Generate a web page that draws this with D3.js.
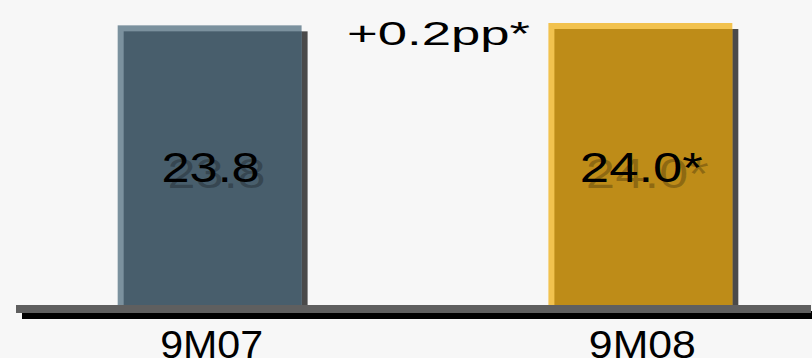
<!DOCTYPE html>
<html>
<head>
<meta charset="utf-8">
<script src="https://cdn.jsdelivr.net/npm/d3@7"></script>
<style>
  html, body { margin: 0; padding: 0; background: #f7f7f7; }
  svg { display: block; }
  text { font-family: "Liberation Sans", Arial, sans-serif; }
</style>
</head>
<body>
<svg id="chart" width="812" height="358"></svg>
<script>
// Period averages and their labels
const categories = ["9M07", "9M08"];
const values = [23.8, 24.0];
const valueLabels = ["23.8", "24.0*"];
const deltaLabel = "+0.2pp*";
const faceColors = ["#485e6c", "#be8c18"];
const edgeColors = ["#7b919e", "#f2c24e"];

const W = 812, H = 358;
const baseY = 305;      // top of the floor slab
const depth = 6;        // bevel / drop-shadow offset

const svg = d3.select("#chart");
svg.append("rect").attr("width", W).attr("height", H).attr("fill", "#f7f7f7");

const x = d3.scaleBand()
  .domain(categories)
  .range([10, 840])
  .paddingInner(0.573)
  .paddingOuter(0.25);

const y = d3.scaleLinear()
  .domain([0, d3.max(values)])
  .range([baseY, 23]);

const data = categories.map((c, i) => ({
  cat: c, value: values[i], label: valueLabels[i],
  face: faceColors[i], edge: edgeColors[i]
}));

const bars = svg.append("g").selectAll("g").data(data).join("g");

// drop shadow
bars.append("rect")
  .attr("x", d => x(d.cat) + depth)
  .attr("y", d => y(d.value) + depth)
  .attr("width", x.bandwidth())
  .attr("height", d => baseY - y(d.value))
  .attr("fill", "#4a4a4a");

// light bevel (top + left edge)
bars.append("rect")
  .attr("x", d => x(d.cat))
  .attr("y", d => y(d.value))
  .attr("width", x.bandwidth())
  .attr("height", d => baseY - y(d.value))
  .attr("fill", d => d.edge);

// bar face
bars.append("rect")
  .attr("x", d => x(d.cat) + depth)
  .attr("y", d => y(d.value) + depth)
  .attr("width", x.bandwidth() - depth)
  .attr("height", d => baseY - y(d.value) - depth)
  .attr("fill", d => d.face);

// floor slab with its shadow
svg.append("rect")
  .attr("x", 16 + depth).attr("y", baseY + depth)
  .attr("width", 800).attr("height", 8)
  .attr("fill", "#000");
svg.append("rect")
  .attr("x", 16).attr("y", baseY)
  .attr("width", 795).attr("height", 8)
  .attr("fill", "#5f5f5f");

// value labels with soft shadow
const labelSize = 42;
const labelWidths = [98, 123];
bars.append("text")
  .attr("x", (d, i) => x(d.cat) + x.bandwidth() / 2 + 1 + 6)
  .attr("y", 182 + 6)
  .attr("text-anchor", "middle")
  .attr("font-size", labelSize)
  .attr("textLength", (d, i) => labelWidths[i])
  .attr("lengthAdjust", "spacingAndGlyphs")
  .attr("fill", "#000")
  .attr("fill-opacity", 0.25)
  .text(d => d.label);
bars.append("text")
  .attr("x", (d, i) => x(d.cat) + x.bandwidth() / 2 + 1)
  .attr("y", 182)
  .attr("text-anchor", "middle")
  .attr("font-size", labelSize)
  .attr("textLength", (d, i) => labelWidths[i])
  .attr("lengthAdjust", "spacingAndGlyphs")
  .attr("fill", "#000")
  .text(d => d.label);

// change annotation
svg.append("text")
  .attr("x", 347)
  .attr("y", 45)
  .attr("font-size", 34)
  .attr("textLength", 183)
  .attr("lengthAdjust", "spacingAndGlyphs")
  .attr("fill", "#000")
  .text(deltaLabel);

// category axis
const axisWidths = [103, 107];
const axis = svg.append("g")
  .attr("transform", `translate(2,${baseY + 14})`)
  .call(d3.axisBottom(x).tickSize(0).tickPadding(11));
axis.select(".domain").remove();
axis.selectAll("text")
  .attr("font-size", 39)
  .attr("font-family", "Liberation Sans, Arial, sans-serif")
  .attr("textLength", (d, i) => axisWidths[i])
  .attr("lengthAdjust", "spacingAndGlyphs")
  .attr("fill", "#000");
</script>
</body>
</html>
